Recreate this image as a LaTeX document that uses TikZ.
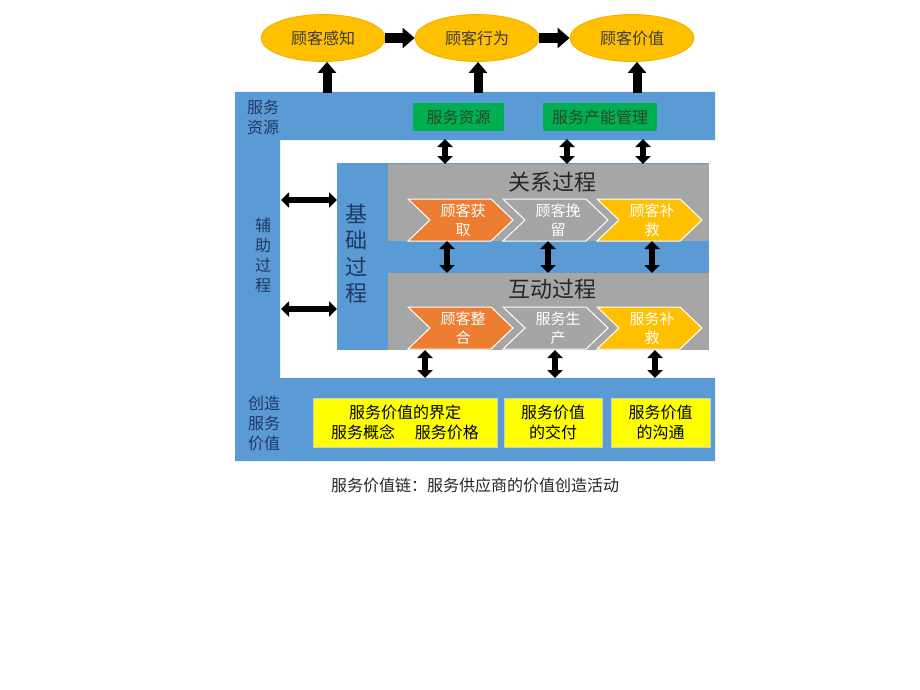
\documentclass[tikz,border=0pt]{standalone}
\usepackage{fontspec}
\setmainfont{Noto Sans CJK SC}
\usetikzlibrary{arrows.meta,shapes.geometric}
\definecolor{bluefr}{HTML}{5B9BD5}
\definecolor{navy}{HTML}{1F3864}
\definecolor{gold}{HTML}{FFC000}
\definecolor{goldd}{HTML}{F0B000}
\definecolor{orangec}{HTML}{ED7D31}
\definecolor{grayc}{HTML}{A5A5A5}
\definecolor{grayb}{HTML}{A6A6A6}
\definecolor{greenb}{HTML}{00B050}
\definecolor{greent}{HTML}{2A4530}
\definecolor{yellowb}{HTML}{FFFF00}
\definecolor{txt}{HTML}{262626}
\definecolor{elltxt}{HTML}{3A3A3A}
\newcommand{\fsz}[2]{\fontsize{#1}{#2}\selectfont}
\newcommand{\mychev}[6]{%
  \path[fill=#4, draw=white, line width=1pt] (#2,#3) -- ++(83,0) -- ++(22,21) -- ++(-22,21) -- ++(-83,0) -- ++(22,-21) -- cycle;
  \node[chevtext] (#1) at ({#2+55},{#3+21}) {#5\\#6};
}
\begin{document}
\begin{tikzpicture}[x=1pt,y=-1pt,
  ell/.style={ellipse, fill=gold, draw=goldd, line width=0.8pt, minimum width=124pt, minimum height=47pt, inner sep=0pt, text=elltxt, font=\fsz{16}{18}},
  greenbox/.style={fill=greenb, text=greent, inner sep=0pt, minimum height=28pt, font=\fsz{16}{18}},
  yelbox/.style={fill=yellowb, draw=gray!40, line width=0.8pt, text=black, align=center, inner sep=0pt, minimum height=49pt, font=\fsz{16}{20}},
  side/.style={text=navy, align=center, inner sep=0pt, font=\fsz{16}{20}},
  basebox/.style={fill=bluefr, inner sep=0pt, anchor=north west},
  graybox/.style={fill=grayb, inner sep=0pt, anchor=north west, minimum width=321pt, minimum height=77pt},
  title/.style={text=txt, inner sep=0pt, font=\fsz{22}{24}},
  chevtext/.style={text=white, align=center, inner sep=0pt, font=\fsz{15}{19}},
  blockR/.style={line width=10pt, -{Triangle[width=20pt,length=12pt]}},
  uparr/.style={line width=9pt, -{Triangle[width=18pt,length=11pt]}},
  dbl/.style={line width=6pt, {Triangle[width=15pt,length=8pt]}-{Triangle[width=15pt,length=8pt]}}
]
\useasboundingbox (0,0) rectangle (920,690);
\fill[white] (0,0) rectangle (920,690);

% ellipses
\node[ell] (e1) at (323,38) {顾客感知};
\node[ell] (e2) at (477,38) {顾客行为};
\node[ell] (e3) at (632,38) {顾客价值};
\draw[blockR] (e1.east) -- (e2.west);
\draw[blockR] (e2.east) -- (e3.west);

% blue frame
\fill[bluefr] (235,92) -- (715,92) -- (715,140) -- (280,140) -- (280,378) -- (715,378) -- (715,461) -- (235,461) -- cycle;
\coordinate (u1) at (327,93);
\coordinate (u2) at (478,93);
\coordinate (u3) at (637,93);
\draw[uparr] (u1) -- (u1 |- e1.south);
\draw[uparr] (u2) -- (u2 |- e2.south);
\draw[uparr] (u3) -- (u3 |- e3.south);

% side labels
\node[side] (lres) at (263,117) {服务\\资源};
\node[side] (laux) at (263,255) {辅\\助\\过\\程};
\node[side] (lcre) at (264,423) {创造\\服务\\价值};

% green boxes
\node[greenbox, minimum width=91pt] (g1) at (458.5,117) {服务资源};
\node[greenbox, minimum width=114pt] (g2) at (600,117) {服务产能管理};

% base process box
\node[basebox, minimum width=372pt, minimum height=187pt] (base) at (337,163) {};
\node[graybox] (rel) at (388,164) {};
\node[graybox] (int) at (388,273) {};
\node[text=navy, align=center, inner sep=0pt, font=\fsz{22}{26.3}] (lbase) at (356,253.5) {基\\础\\过\\程};
\node[title] (trel) at (552,182) {关系过程};
\node[title] (tint) at (552,289) {互动过程};

% chevrons
\mychev{c1}{408}{199}{orangec}{顾客获}{取}
\mychev{c2}{503}{199}{grayc}{顾客挽}{留}
\mychev{c3}{597}{199}{gold}{顾客补}{救}
\mychev{c4}{408}{307}{orangec}{顾客整}{合}
\mychev{c5}{503}{307}{grayc}{服务生}{产}
\mychev{c6}{597}{307}{gold}{服务补}{救}

% left double arrows
\coordinate (la1) at (281,200);
\coordinate (la2) at (281,309);
\draw[dbl] (la1) -- (la1 -| base.west);
\draw[dbl] (la2) -- (la2 -| base.west);

% vertical double arrows: resources -> relation process
\coordinate (v1) at (445,139);
\coordinate (v2) at (567,139);
\coordinate (v3) at (643,139);
\draw[dbl] (v1) -- (v1 |- rel.north);
\draw[dbl] (v2) -- (v2 |- rel.north);
\draw[dbl] (v3) -- (v3 |- rel.north);

% between rows
\coordinate (m1) at (447,241);
\coordinate (m2) at (548,241);
\coordinate (m3) at (652,241);
\draw[dbl] (m1) -- (m1 |- int.north);
\draw[dbl] (m2) -- (m2 |- int.north);
\draw[dbl] (m3) -- (m3 |- int.north);

% below
\coordinate (b1) at (425,350);
\coordinate (b2) at (555,350);
\coordinate (b3) at (655,350);
\coordinate (bb) at (0,378);
\draw[dbl] (b1) -- (b1 |- bb);
\draw[dbl] (b2) -- (b2 |- bb);
\draw[dbl] (b3) -- (b3 |- bb);

% yellow boxes
\node[yelbox, minimum width=184pt] (y1) at (405,422.5) {服务价值的界定\\服务概念\hspace{20pt}服务价格};
\node[yelbox, minimum width=98pt] (y2) at (553,422.5) {服务价值\\的交付};
\node[yelbox, minimum width=99pt] (y3) at (660.5,422.5) {服务价值\\的沟通};

% caption
\node[text=txt, inner sep=0pt, font=\fsz{16}{18}] (cap) at (475,485) {服务价值链：服务供应商的价值创造活动};
\end{tikzpicture}
\end{document}
